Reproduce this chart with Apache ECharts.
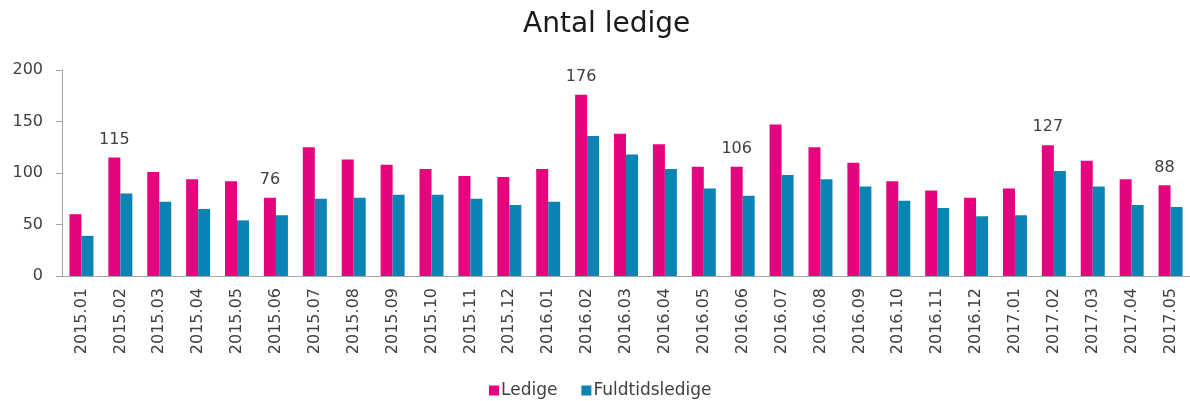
<!DOCTYPE html>
<html>
<head>
<meta charset="utf-8">
<script src="https://cdn.jsdelivr.net/npm/echarts@6/dist/echarts.min.js"></script>
<style>
html, body { margin: 0; padding: 0; background: #fff; }
#chart { width: 1190px; height: 401px; }
</style>
</head>
<body>
<div id="chart"></div>
<script>
const months = ['2015.01', '2015.02', '2015.03', '2015.04', '2015.05', '2015.06', '2015.07', '2015.08', '2015.09', '2015.10',
  '2015.11', '2015.12', '2016.01', '2016.02', '2016.03', '2016.04', '2016.05', '2016.06', '2016.07', '2016.08',
  '2016.09', '2016.10', '2016.11', '2016.12', '2017.01', '2017.02', '2017.03', '2017.04', '2017.05']
const ledige = [60, 115, 101, 94, 92, 76, 125, 113, 108, 104, 97, 96, 104, 176, 138, 128, 106, 106, 147, 125,
  110, 92, 83, 76, 85, 127, 112, 94, 88]
const fuldtidsledige = [39, 80, 72, 65, 54, 59, 75, 76, 79, 79, 75, 69, 72, 136, 118, 104, 85, 78, 98, 94,
  87, 73, 66, 58, 59, 102, 87, 69, 67]
// months that get a value label on the Ledige bar
const labelled = ['2015.02', '2015.06', '2016.02', '2016.06', '2017.02', '2017.05']
const yTicks = [0, 50, 100, 150, 200]

const font = '"Century Gothic", "DejaVu Sans", sans-serif'
const textColor = '#404040'

let myChart = echarts.init(document.getElementById('chart'))
let option = {
  animation: false,
  title: {
    text: 'Antal ledige',
    left: 518,
    top: 6,
    textStyle: { fontFamily: font, fontSize: 28, fontWeight: 'normal', color: '#1a1a1a' }
  },
  legend: {
    bottom: -3,
    left: 484,
    itemWidth: 10,
    itemHeight: 10,
    itemGap: 24,
    itemStyle: { borderWidth: 0 },
    textStyle: { fontFamily: font, fontSize: 17, color: textColor, padding: [0, 0, 0, -3] },
    data: [
      { name: 'Ledige', icon: 'rect' },
      { name: 'Fuldtidsledige', icon: 'rect' }
    ]
  },
  grid: {
    left: 62,
    top: 70,
    width: 1133,
    height: 206
  },
  xAxis: {
    type: 'category',
    data: months,
    axisLine: { lineStyle: { color: '#a6a6a6' } },
    axisTick: { length: 6, lineStyle: { color: '#a6a6a6' } },
    axisLabel: {
      rotate: 90,
      margin: 12,
      interval: 0,
      fontFamily: font,
      fontSize: 16,
      color: textColor
    }
  },
  yAxis: {
    type: 'value',
    min: yTicks[0],
    max: yTicks[yTicks.length - 1],
    interval: 50,
    splitLine: { show: false },
    axisLine: { show: true, lineStyle: { color: '#a6a6a6' } },
    axisTick: { show: true, length: 6, lineStyle: { color: '#a6a6a6' } },
    axisLabel: { margin: 19, fontFamily: font, fontSize: 16, color: textColor }
  },
  series: [
    {
      name: 'Ledige',
      type: 'bar',
      barWidth: 12,
      barGap: '0%',
      itemStyle: { color: '#e6047e' },
      label: {
        position: 'top',
        distance: 10,
        fontFamily: font,
        fontSize: 16,
        color: textColor
      },
      data: ledige.map((v, i) => ({
        value: v,
        label: { show: labelled.includes(months[i]) }
      }))
    },
    {
      name: 'Fuldtidsledige',
      type: 'bar',
      barWidth: 12,
      barGap: '0%',
      itemStyle: { color: '#0b84b4' },
      data: fuldtidsledige
    }
  ]
}
myChart.setOption(option)
</script>
</body>
</html>
